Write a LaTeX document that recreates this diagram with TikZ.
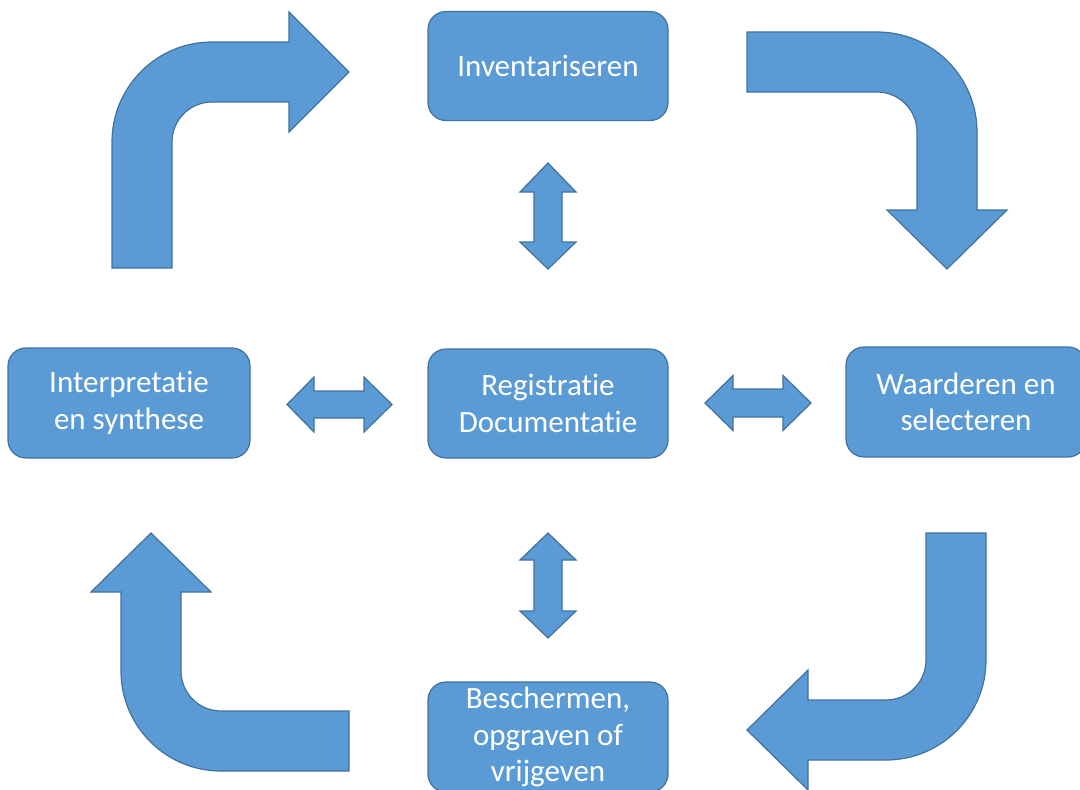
\documentclass[tikz,border=0pt]{standalone}
\usepackage{fontspec}
\setmainfont{Carlito}[RawFeature={-liga;-dlig;-clig}]
\definecolor{boxfill}{HTML}{5B9BD5}
\definecolor{boxline}{HTML}{41719C}
\begin{document}
\begin{tikzpicture}[x=1pt,y=-1pt,
  blk/.style={fill=boxfill,draw=boxline,line width=1.2pt,line join=miter},
  stage/.style={blk,rectangle,rounded corners=18pt,minimum width=240pt,minimum height=109pt,
    inner sep=0pt,align=center,text=white,font=\fontsize{31}{36.5}\selectfont}]
\useasboundingbox (0,0) rectangle (1080,790);
\clip (0,0) rectangle (1080,790);
% boxes
\node[stage] (inv) at (548,66) {Inventariseren};
\node[stage] (reg) at (548,403.5) {Registratie\\Documentatie};
\node[stage,minimum width=242pt,minimum height=110pt] (int) at (129,403) {Interpretatie\\en synthese};
\node[stage,minimum height=110pt] (waa) at (966,402) {Waarderen en\\selecteren};
\node[stage,minimum height=110pt] (bes) at (548,737) {Beschermen,\\opgraven of\\vrijgeven};
% bent arrows
\draw[blk] (112,268) -- (112,142) .. controls (112,86.8) and (156.8,42) .. (212,42)
  -- (289,42) -- (289,12) -- (349,72) -- (289,132) -- (289,102) -- (212,102)
  .. controls (189.9,102) and (172,119.9) .. (172,142) -- (172,268) -- cycle;
\draw[blk] (747,32) -- (877,32) .. controls (932.2,32) and (977,76.8) .. (977,132)
  -- (977,210) -- (1007,210) -- (947,269) -- (887,210) -- (917,210) -- (917,132)
  .. controls (917,109.9) and (899.1,92) .. (877,92) -- (747,92) -- cycle;
\draw[blk] (926,533) -- (986,533) -- (986,660) .. controls (986,715.2) and (941.2,760) .. (886,760)
  -- (808,760) -- (808,790) -- (747,730) -- (808,670) -- (808,700) -- (886,700)
  .. controls (908.1,700) and (926,682.1) .. (926,660) -- cycle;
\draw[blk] (349,711) -- (349,771) -- (221,771) .. controls (165.8,771) and (121,726.2) .. (121,671)
  -- (121,592) -- (91,592) -- (151,533) -- (211,592) -- (181,592) -- (181,671)
  .. controls (181,693.1) and (198.9,711) .. (221,711) -- cycle;
% double arrows
\draw[blk] (548,163) -- (576,192) -- (562,192) -- (562,242) -- (576,242) -- (548,269)
  -- (520,242) -- (534,242) -- (534,192) -- (520,192) -- cycle;
\draw[blk] (548,533) -- (576,560) -- (562,560) -- (562,611) -- (576,611) -- (548,638)
  -- (520,611) -- (534,611) -- (534,560) -- (520,560) -- cycle;
\draw[blk] (287,404.5) -- (314,377) -- (314,391) -- (364,391) -- (364,377) -- (392,404.5)
  -- (364,432) -- (364,418) -- (314,418) -- (314,432) -- cycle;
\draw[blk] (705,403) -- (733,375.5) -- (733,389) -- (783,389) -- (783,375.5) -- (811,403)
  -- (783,430.5) -- (783,417) -- (733,417) -- (733,430.5) -- cycle;
\end{tikzpicture}
\end{document}
